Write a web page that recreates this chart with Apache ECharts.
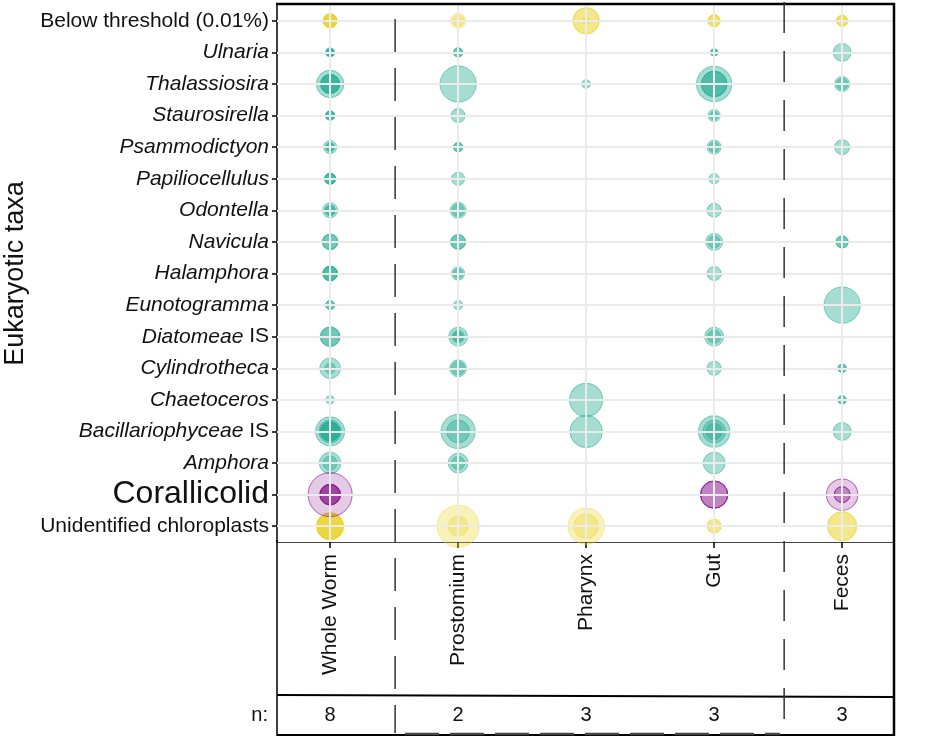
<!DOCTYPE html>
<html>
<head>
<meta charset="utf-8">
<script src="https://cdn.jsdelivr.net/npm/echarts@6.0.0/dist/echarts.min.js"></script>
<style>
html,body{margin:0;padding:0;background:#fff;}
#chart{width:928px;height:738px;}
</style>
</head>
<body>
<div id="chart"></div>
<script>
// ---------- data ----------
const taxa = ['Below threshold (0.01%)','Ulnaria','Thalassiosira','Staurosirella','Psammodictyon',
  'Papiliocellulus','Odontella','Navicula','Halamphora','Eunotogramma','Diatomeae IS','Cylindrotheca',
  'Chaetoceros','Bacillariophyceae IS','Amphora','Corallicolid','Unidentified chloroplasts'];
const taxonGroup = ['other','diatom','diatom','diatom','diatom','diatom','diatom','diatom','diatom',
  'diatom','diatom','diatom','diatom','diatom','diatom','corallicolid','other'];
const sites = ['Whole Worm','Prostomium','Pharynx','Gut','Feces'];
const sampleCounts = [8, 2, 3, 3, 3];

// relative abundance (%) of each sample, per taxon (same order as taxa)
const wholeWorm = [
  [4.5,4.5,4.4,4.3,4.2,4.0],
  [1.8,1.2,1.0],
  [20,9.5,9,8.5],
  [1.8,1.7,1.6],
  [4,1.4,1.3],
  [2.8,2.6,2.5],
  [5.4,2.3,2.2],
  [6.2,5.5],
  [5.4,5,4.8],
  [1.7,1.6],
  [10,9],
  [11,2.3],
  [1.3],
  [23,13.5,9.5,9,9],
  [12,4.7],
  [54,11,11,10.5,10.5,10,10],
  [20,19,19,18,18]
];
const prostomium = [
  [5.4,2.8],
  [1.8,1.7],
  [36],
  [4.7],
  [1.8,1.7],
  [4],
  [6.2,3.4],
  [5.4,5],
  [4,1.8],
  [1.8],
  [9,3.5,1.8],
  [7,4],
  [],
  [32,13.4],
  [10,4],
  [],
  [49,10]
];
const pharynx = [
  [18.8,18,1],
  [],
  [1.5],
  [],[],[],[],[],[],[],[],[],
  [30],
  [28.5],
  [],
  [],
  [36,16]
];
const gut = [
  [3.4,3.3,3.2],
  [1,0.9],
  [34,17.4,17],
  [3.4,1.4],
  [4.7,2.3],
  [2.25],
  [4.7],
  [7.1,3.4],
  [4.7],
  [],
  [9,4],
  [4.7],
  [],
  [26.7,13.4,6.2],
  [12.25],
  [20,19.5,19],
  [4.7,4.5]
];
const feces = [
  [2.8,2.7,2.6],
  [8],
  [5.4,2.8],
  [],
  [5.4],
  [],
  [],
  [3.4,3.3],
  [],
  [36],
  [],
  [1.4,1.3],
  [1.4,1.3],
  [8],
  [],
  [26.7,6.2,6],
  [23.4,22]
];
const siteData = [wholeWorm, prostomium, pharynx, gut, feces];

// ---------- build ----------
const groupStyle = {
  diatom: {rgb:'30,170,145', a:0.5, b:0.65},
  other: {rgb:'232,210,30', a:0.38, b:0.5},
  corallicolid: {rgb:'145,35,150', a:0.3, b:0.85}
};
const pts = {diatom:[], other:[], corallicolid:[]};
siteData.forEach((arr, si) => {
  arr.forEach((vals, ti) => {
    vals.forEach(v => pts[taxonGroup[ti]].push([si + 1, taxa[ti], v]));
  });
});
Object.keys(pts).forEach(k => pts[k].sort((p, q) => q[2] - p[2]));

const italicSet = ['Ulnaria','Thalassiosira','Staurosirella','Psammodictyon','Papiliocellulus','Odontella',
  'Navicula','Halamphora','Eunotogramma','Cylindrotheca','Chaetoceros','Amphora'];
function yLabel(v) {
  if (v === 'Corallicolid') return '{big|' + v + '}';
  if (italicSet.indexOf(v) >= 0) return '{it|' + v + '}';
  if (v.endsWith(' IS')) return '{it|' + v.slice(0, -3) + '}{n| IS}';
  return '{n|' + v + '}';
}

const FONT = 'Liberation Sans, Arial, Helvetica, sans-serif';
const chart = echarts.init(document.getElementById('chart'), null, {renderer:'canvas'});

const gridMarks = taxa.map(t => ({yAxis: t})).concat(sites.map((s, i) => ({xAxis: i + 1})));

const scatterSeries = Object.keys(pts).map(k => ({
  type: 'scatter',
  data: pts[k],
  z: 3,
  symbolSize: d => 1.5 + 5.8 * Math.sqrt(d[2]),
  itemStyle: {
    color: 'rgba(' + groupStyle[k].rgb + ',' + groupStyle[k].a + ')',
    borderColor: 'rgba(' + groupStyle[k].rgb + ',' + groupStyle[k].b + ')',
    borderWidth: 1
  },
  emphasis: {disabled: true},
  silent: true
}));

chart.setOption({
  animation: false,
  backgroundColor: '#fff',
  textStyle: {fontFamily: FONT},
  grid: {left: 277, top: 5, width: 617, height: 537, containLabel: false, outerBoundsMode: 'none'},
  xAxis: {
    type: 'value', min: 0.585, max: 5.405,
    axisLine: {show: true, lineStyle: {color: '#444', width: 1}},
    axisTick: {show: true, length: 6, lineStyle: {color: '#000', width: 1.5}, customValues: [1,2,3,4,5]},
    axisLabel: {
      customValues: [1,2,3,4,5],
      rotate: 90, margin: 12, fontSize: 21, color: '#111', fontFamily: FONT,
      formatter: v => sites[Math.round(v) - 1] || ''
    },
    splitLine: {show: false}
  },
  yAxis: {
    type: 'category', data: taxa, inverse: true, boundaryGap: true,
    name: 'Eukaryotic taxa', nameLocation: 'middle', nameGap: 245,
    nameTextStyle: {fontSize: 27, color: '#111', fontFamily: FONT},
    axisLine: {show: true, lineStyle: {color: '#000', width: 1.5}},
    axisTick: {show: true, alignWithLabel: true, length: 5, lineStyle: {color: '#000', width: 1.5}},
    axisLabel: {
      margin: 8, color: '#111', formatter: yLabel,
      rich: {
        it: {fontSize: 21, fontStyle: 'italic', color: '#111', fontFamily: FONT},
        n: {fontSize: 21, color: '#111', fontFamily: FONT},
        big: {fontSize: 32, color: '#111', fontFamily: FONT}
      }
    },
    splitLine: {show: false}
  },
  series: [{
    type: 'line', data: [], z: 1, silent: true,
    markLine: {
      silent: true, symbol: ['none','none'], animation: false,
      label: {show: false},
      lineStyle: {type: 'solid', color: '#ebebeb', width: 2},
      emphasis: {disabled: true},
      data: gridMarks
    }
  }].concat(scatterSeries)
});

// ---------- frame, dashed separators and sample counts ----------
const xs = sites.map((s, i) => chart.convertToPixel({xAxisIndex: 0}, i + 1));
const sep1 = (xs[0] + xs[1]) / 2 + 1;
const sep2 = (xs[3] + xs[4]) / 2 + 6;
const g = [
  {type:'line', shape:{x1:276, y1:4, x2:895, y2:4}, style:{stroke:'#000', lineWidth:2.5}, z:10},
  {type:'line', shape:{x1:894, y1:3, x2:894, y2:736}, style:{stroke:'#000', lineWidth:2.5}, z:10},
  {type:'line', shape:{x1:277, y1:540, x2:277, y2:736}, style:{stroke:'#000', lineWidth:1.5}, z:10},
  {type:'line', shape:{x1:277, y1:695, x2:894, y2:697}, style:{stroke:'#000', lineWidth:2}, z:10},
  {type:'line', shape:{x1:277, y1:735, x2:894, y2:735}, style:{stroke:'#000', lineWidth:2}, z:10},
  {type:'line', shape:{x1:405, y1:734, x2:780, y2:734}, style:{stroke:'#444', lineWidth:2.5, lineDash:[34,11]}, z:10},
  {type:'line', shape:{x1:sep1, y1:19, x2:sep1, y2:733}, style:{stroke:'#333', lineWidth:1.5, lineDash:[33,16]}, z:10},
  {type:'line', shape:{x1:sep2, y1:2, x2:sep2, y2:733}, style:{stroke:'#333', lineWidth:1.5, lineDash:[31,18]}, z:10},
  {type:'text', x:268, y:715, style:{text:'n:', fill:'#111', fontSize:20, fontFamily:FONT, textAlign:'right', textVerticalAlign:'middle'}, z:10}
];
sampleCounts.forEach((n, i) => {
  g.push({type:'text', x:xs[i], y:715, style:{text:String(n), fill:'#111', fontSize:20, fontFamily:FONT, textAlign:'center', textVerticalAlign:'middle'}, z:10});
});
chart.setOption({graphic: g});
</script>
</body>
</html>
